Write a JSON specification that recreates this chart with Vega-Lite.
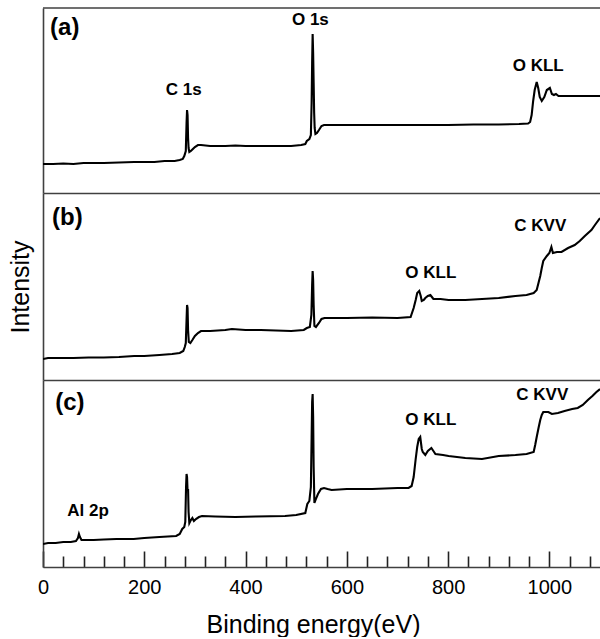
{
  "$schema": "https://vega.github.io/schema/vega-lite/v6.json",
  "autosize": "pad",
  "padding": {"left": 8, "top": 7, "right": 0, "bottom": 0},
  "spacing": 0,
  "background": "white",
  "config": {
    "font": "Liberation Sans",
    "view": {"stroke": null},
    "axis": {"domainColor": "#404040", "domainWidth": 1.6, "grid": false}
  },
  "datasets": {
    "a": [
      {"E":0,"I":29},{"E":20,"I":29},{"E":40,"I":29.5},{"E":60,"I":29},{"E":80,"I":30},{"E":100,"I":30},{"E":120,"I":30},{"E":150,"I":30.5},{"E":180,"I":31},{"E":200,"I":31},{"E":220,"I":31},{"E":240,"I":32},{"E":260,"I":32},{"E":270,"I":33},{"E":276,"I":34},{"E":279,"I":37},{"E":282,"I":42},{"E":283.5,"I":70},{"E":284.5,"I":83},{"E":285.5,"I":78},{"E":286.5,"I":55},{"E":287.5,"I":45},{"E":289,"I":41},{"E":292,"I":42},{"E":296,"I":44},{"E":300,"I":46},{"E":306,"I":48},{"E":312,"I":48},{"E":330,"I":47},{"E":360,"I":47},{"E":380,"I":47.5},{"E":400,"I":47},{"E":430,"I":47},{"E":460,"I":47},{"E":490,"I":47},{"E":510,"I":48},{"E":518,"I":49},{"E":521,"I":52},{"E":526,"I":54},{"E":529,"I":58},{"E":530.5,"I":90},{"E":531.5,"I":130},{"E":532.5,"I":159},{"E":533.5,"I":140},{"E":534.5,"I":110},{"E":535.5,"I":80},{"E":536.5,"I":65},{"E":538,"I":59},{"E":541,"I":60},{"E":545,"I":63},{"E":550,"I":67},{"E":555,"I":68},{"E":562,"I":68},{"E":600,"I":68},{"E":650,"I":68},{"E":700,"I":68},{"E":750,"I":68},{"E":800,"I":68},{"E":850,"I":68.5},{"E":900,"I":68.5},{"E":940,"I":69},{"E":958,"I":69.5},{"E":962,"I":71},{"E":965,"I":78},{"E":968,"I":92},{"E":971,"I":103},{"E":975,"I":111},{"E":978,"I":105},{"E":981,"I":96},{"E":985,"I":92},{"E":990,"I":96},{"E":995,"I":103},{"E":1001,"I":105},{"E":1005,"I":99},{"E":1009,"I":98},{"E":1013,"I":99},{"E":1018,"I":97},{"E":1030,"I":97},{"E":1050,"I":97},{"E":1075,"I":97},{"E":1100,"I":97}
    ],
    "b": [
      {"E":0,"I":21},{"E":10,"I":22},{"E":30,"I":22},{"E":60,"I":22},{"E":90,"I":22.5},{"E":120,"I":22.5},{"E":150,"I":23},{"E":180,"I":24},{"E":200,"I":24},{"E":230,"I":25},{"E":255,"I":26},{"E":270,"I":27},{"E":277,"I":29},{"E":280,"I":33},{"E":282,"I":37},{"E":283.5,"I":60},{"E":284.5,"I":75},{"E":285.5,"I":72},{"E":286.5,"I":50},{"E":288,"I":38},{"E":291,"I":37},{"E":295,"I":40},{"E":300,"I":44},{"E":306,"I":47},{"E":312,"I":49},{"E":330,"I":49},{"E":360,"I":50},{"E":373,"I":51},{"E":400,"I":50},{"E":430,"I":50},{"E":460,"I":49.5},{"E":490,"I":49},{"E":515,"I":50},{"E":521,"I":52},{"E":527,"I":53},{"E":530,"I":65},{"E":531.5,"I":95},{"E":532.5,"I":109},{"E":533.5,"I":100},{"E":534.5,"I":75},{"E":536,"I":54},{"E":539,"I":53},{"E":545,"I":57},{"E":550,"I":61},{"E":556,"I":62},{"E":570,"I":62},{"E":600,"I":62},{"E":650,"I":62.5},{"E":700,"I":62},{"E":726,"I":63},{"E":732,"I":72},{"E":736,"I":80},{"E":739,"I":87},{"E":743,"I":89},{"E":746,"I":84},{"E":748,"I":79},{"E":752,"I":80},{"E":755,"I":82},{"E":760,"I":84},{"E":765,"I":85},{"E":768,"I":83},{"E":771,"I":81},{"E":785,"I":81},{"E":801,"I":80},{"E":834,"I":80},{"E":867,"I":81},{"E":900,"I":82},{"E":933,"I":84},{"E":955,"I":85},{"E":969,"I":87},{"E":975,"I":90},{"E":979,"I":98},{"E":982,"I":104},{"E":985,"I":112},{"E":988,"I":119},{"E":995,"I":124},{"E":1000,"I":127},{"E":1004,"I":133},{"E":1007,"I":127},{"E":1015,"I":128},{"E":1024,"I":128},{"E":1037,"I":132},{"E":1050,"I":135},{"E":1060,"I":139},{"E":1070,"I":144},{"E":1083,"I":150},{"E":1090,"I":155},{"E":1100,"I":162}
    ],
    "c": [
      {"E":0,"I":23},{"E":10,"I":24},{"E":25,"I":24},{"E":40,"I":25},{"E":55,"I":25},{"E":65,"I":26},{"E":69,"I":29},{"E":71,"I":33},{"E":73,"I":30},{"E":76,"I":27},{"E":85,"I":27},{"E":100,"I":27},{"E":120,"I":27.5},{"E":145,"I":28},{"E":160,"I":28},{"E":179,"I":28},{"E":200,"I":29},{"E":230,"I":30},{"E":263,"I":31},{"E":270,"I":33},{"E":275,"I":38},{"E":279,"I":40},{"E":281,"I":45},{"E":282.5,"I":80},{"E":283.5,"I":93},{"E":284.5,"I":90},{"E":285.5,"I":76},{"E":286.5,"I":78},{"E":287.5,"I":55},{"E":289,"I":44},{"E":292,"I":47},{"E":295,"I":49},{"E":298,"I":46},{"E":302,"I":48},{"E":308,"I":50},{"E":314,"I":51},{"E":340,"I":50.5},{"E":380,"I":50},{"E":420,"I":50.5},{"E":478,"I":51},{"E":500,"I":52},{"E":518,"I":54},{"E":522,"I":63},{"E":526,"I":66},{"E":529,"I":80},{"E":530.5,"I":130},{"E":531.5,"I":165},{"E":532.5,"I":173},{"E":533.5,"I":150},{"E":534.5,"I":100},{"E":536,"I":64},{"E":539,"I":68},{"E":543,"I":73},{"E":549,"I":78},{"E":555,"I":79},{"E":562,"I":78},{"E":570,"I":77},{"E":600,"I":78},{"E":650,"I":78},{"E":700,"I":79},{"E":722,"I":79},{"E":728,"I":81},{"E":732,"I":90},{"E":736,"I":108},{"E":739,"I":120},{"E":742,"I":128},{"E":745,"I":130},{"E":748,"I":118},{"E":750,"I":115},{"E":755,"I":112},{"E":760,"I":116},{"E":767,"I":119},{"E":771,"I":116},{"E":775,"I":113},{"E":790,"I":112},{"E":801,"I":111},{"E":834,"I":109},{"E":867,"I":108},{"E":900,"I":111},{"E":933,"I":112},{"E":955,"I":113},{"E":969,"I":115},{"E":972,"I":122},{"E":975,"I":130},{"E":979,"I":140},{"E":982,"I":147},{"E":985,"I":152},{"E":988,"I":155},{"E":998,"I":155},{"E":1005,"I":153},{"E":1017,"I":154},{"E":1030,"I":156},{"E":1045,"I":158},{"E":1056,"I":159},{"E":1066,"I":162},{"E":1076,"I":167},{"E":1085,"I":171},{"E":1093,"I":175},{"E":1100,"I":178}
    ],
    "labels": [
      {"panel":"a","kind":"panel","t":"(a)","E":14,"I":165.5},
      {"panel":"a","kind":"peak","t":"C 1s","E":278,"I":103},
      {"panel":"a","kind":"peak","t":"O 1s","E":528,"I":173.5},
      {"panel":"a","kind":"peak","t":"O KLL","E":978,"I":127},
      {"panel":"b","kind":"panel","t":"(b)","E":18,"I":162},
      {"panel":"b","kind":"peak","t":"O KLL","E":766,"I":107},
      {"panel":"b","kind":"peak","t":"C KVV","E":982,"I":154},
      {"panel":"c","kind":"panel","t":"(c)","E":24,"I":164.5},
      {"panel":"c","kind":"peak","t":"Al 2p","E":89,"I":56},
      {"panel":"c","kind":"peak","t":"O KLL","E":766,"I":147},
      {"panel":"c","kind":"peak","t":"C KVV","E":986,"I":172.5}
    ],
    "border": [{"I": 185}]
  },
  "vconcat": [
    {
      "width": 557,
      "height": 185,
      "layer": [
        {
          "encoding": {
            "x": {"field": "E", "type": "quantitative", "scale": {"domain": [0, 1100], "nice": false, "zero": false},
                  "axis": {"labels": false, "ticks": false, "title": null}},
            "y": {"field": "I", "type": "quantitative", "scale": {"domain": [0, 185], "nice": false},
                  "axis": {"labels": false, "ticks": false, "title": null}}
          },
          "layer": [
            {"data": {"name": "a"}, "mark": {"type": "line", "color": "black", "strokeWidth": 2.1, "clip": true}},
            {"data": {"name": "labels"}, "transform": [{"filter": "datum.panel === 'a' && datum.kind === 'panel'"}],
             "mark": {"type": "text", "fontSize": 24, "fontWeight": "bold", "align": "left", "baseline": "middle", "color": "black"},
             "encoding": {"text": {"field": "t"}}},
            {"data": {"name": "labels"}, "transform": [{"filter": "datum.panel === 'a' && datum.kind === 'peak'"}],
             "mark": {"type": "text", "fontSize": 17, "fontWeight": "bold", "align": "center", "baseline": "middle", "color": "black"},
             "encoding": {"text": {"field": "t"}}}
          ]
        },
        {
          "data": {"name": "border"},
          "mark": {"type": "rule", "color": "#404040", "strokeWidth": 1.6},
          "encoding": {
            "y": {"field": "I", "type": "quantitative", "axis": {"labels": false, "ticks": false, "title": null}}
          }
        }
      ]
    },
    {
      "width": 557,
      "height": 187,
      "encoding": {
        "x": {"field": "E", "type": "quantitative", "scale": {"domain": [0, 1100], "nice": false, "zero": false},
              "axis": {"labels": false, "ticks": false, "title": null}},
        "y": {"field": "I", "type": "quantitative", "scale": {"domain": [0, 187], "nice": false},
              "axis": {"labels": false, "ticks": false, "title": "Intensity", "titleFontSize": 25, "titleFontWeight": "normal", "titlePadding": 10, "titleColor": "black"}}
      },
      "layer": [
        {"data": {"name": "b"}, "mark": {"type": "line", "color": "black", "strokeWidth": 2.1, "clip": true}},
        {"data": {"name": "labels"}, "transform": [{"filter": "datum.panel === 'b' && datum.kind === 'panel'"}],
         "mark": {"type": "text", "fontSize": 24, "fontWeight": "bold", "align": "left", "baseline": "middle", "color": "black"},
         "encoding": {"text": {"field": "t"}}},
        {"data": {"name": "labels"}, "transform": [{"filter": "datum.panel === 'b' && datum.kind === 'peak'"}],
         "mark": {"type": "text", "fontSize": 17, "fontWeight": "bold", "align": "center", "baseline": "middle", "color": "black"},
         "encoding": {"text": {"field": "t"}}}
      ]
    },
    {
      "width": 557,
      "height": 187,
      "encoding": {
        "x": {"field": "E", "type": "quantitative", "scale": {"domain": [0, 1100], "nice": false, "zero": false},
              "axis": {
                "values": [0,40,80,120,160,200,240,280,320,360,400,440,480,520,560,600,640,680,720,760,800,840,880,920,960,1000,1040,1080],
                "format": "d",
                "tickSize": {"condition": {"test": "datum.value % 200 === 0", "value": -16}, "value": -11},
                "tickWidth": 1.6,
                "tickColor": "#222222",
                "labelExpr": "datum.value % 200 === 0 ? datum.label : ''",
                "labelOverlap": false,
                "labelFlush": false,
                "labelFontSize": 20,
                "labelColor": "black",
                "labelPadding": 26,
                "title": "Binding energy(eV)",
                "titleFontSize": 25,
                "titleFontWeight": "normal",
                "titleColor": "black",
                "titlePadding": 10,
                "titleX": 270
              }},
        "y": {"field": "I", "type": "quantitative", "scale": {"domain": [0, 187], "nice": false},
              "axis": {"labels": false, "ticks": false, "title": null}}
      },
      "layer": [
        {"data": {"name": "c"}, "mark": {"type": "line", "color": "black", "strokeWidth": 2.1, "clip": true}},
        {"data": {"name": "labels"}, "transform": [{"filter": "datum.panel === 'c' && datum.kind === 'panel'"}],
         "mark": {"type": "text", "fontSize": 24, "fontWeight": "bold", "align": "left", "baseline": "middle", "color": "black"},
         "encoding": {"text": {"field": "t"}}},
        {"data": {"name": "labels"}, "transform": [{"filter": "datum.panel === 'c' && datum.kind === 'peak'"}],
         "mark": {"type": "text", "fontSize": 17, "fontWeight": "bold", "align": "center", "baseline": "middle", "color": "black"},
         "encoding": {"text": {"field": "t"}}}
      ]
    }
  ]
}
